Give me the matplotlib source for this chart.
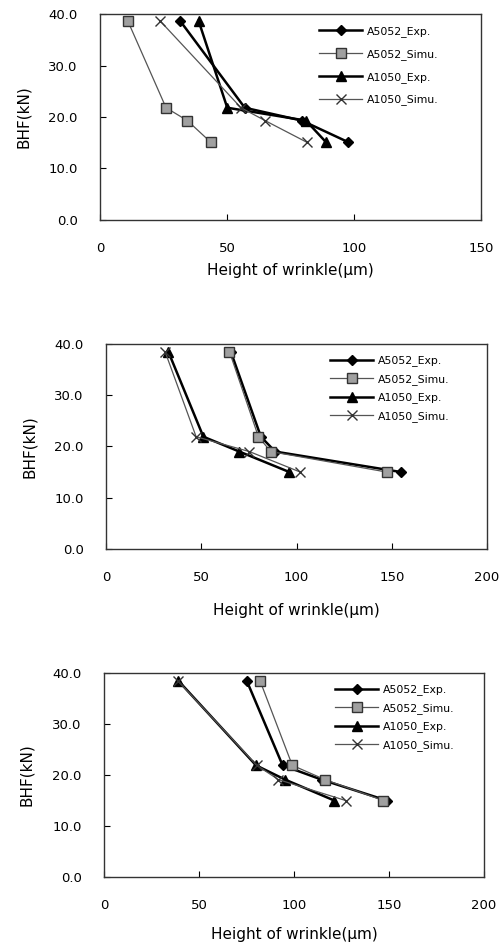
import matplotlib
matplotlib.use("Agg")
import matplotlib.pyplot as plt
from matplotlib.ticker import FormatStrFormatter

# ------------------------------------
# Data
# ------------------------------------
LABELS = ["A5052_Exp.", "A5052_Simu.", "A1050_Exp.", "A1050_Simu."]

# BHF levels (kN) per panel
bhf_1 = [38.7, 21.8, 19.3, 15.1]
bhf_2 = [38.5, 21.9, 19.0, 15.0]
bhf_3 = [38.5, 21.9, 19.1, 15.0]

# panel 1 wrinkle heights (um)
p1_a5052_exp = [31.5, 57.0, 79.5, 97.8]
p1_a5052_sim = [10.9, 26.0, 34.4, 43.6]
p1_a1050_exp = [38.8, 50.1, 81.1, 89.0]
p1_a1050_sim = [23.6, 55.5, 65.0, 81.4]

# panel 2
p2_a5052_exp = [65.5, 81.3, 88.8, 155.0]
p2_a5052_sim = [64.8, 80.0, 86.5, 147.5]
p2_a1050_exp = [32.7, 51.1, 70.0, 96.3]
p2_a1050_sim = [31.0, 47.3, 75.3, 102.0]

# panel 3
p3_a5052_exp = [75.1, 94.0, 114.5, 148.8]
p3_a5052_sim = [82.1, 99.1, 116.3, 147.0]
p3_a1050_exp = [39.1, 80.0, 95.3, 121.2]
p3_a1050_sim = [38.8, 80.4, 91.8, 127.2]

xticks_1 = [0, 50, 100, 150]
xticks_23 = [0, 50, 100, 150, 200]
yticks = [0, 10, 20, 30, 40]

plt.rcParams['font.family'] = ['DejaVu Sans']

# ------------------------------------
# Styles
# ------------------------------------
STYLES = [
    dict(color="black", lw=1.8, marker="D", ms=5.5, mfc="black", mec="black"),
    dict(color="#555555", lw=0.9, marker="s", ms=6.5, mfc="#a0a0a0", mec="#333333"),
    dict(color="black", lw=1.8, marker="^", ms=7.5, mfc="black", mec="black"),
    dict(color="#555555", lw=0.9, marker="x", ms=7, mew=1.0, mec="#333333"),
]


def draw_panel(ax, bhf, series, xmax, xticks, ylab_x, xlab_y, leg_xy, spacing):
    for xs, lab, st in zip(series, LABELS, STYLES):
        ax.plot(xs, bhf, label=lab, **st)
    ax.set_xlim(0, xmax)
    ax.set_ylim(0, 40)
    ax.set_xticks(xticks)
    ax.set_yticks(yticks)
    ax.yaxis.set_major_formatter(FormatStrFormatter("%.1f"))
    ax.tick_params(direction="in", length=4, width=0.8, pad=16, labelsize=9.5)
    for sp in ax.spines.values():
        sp.set_color("#333333")
        sp.set_linewidth(1.0)
    ax.set_xlabel("Height of wrinkle(μm)", fontsize=11)
    ax.set_ylabel("BHF(kN)", fontsize=11)
    ax.xaxis.set_label_coords(0.5, xlab_y)
    ax.xaxis.label.set_va("center")
    ax.yaxis.set_label_coords(ylab_x, 0.5)
    ax.yaxis.label.set_va("center")
    ax.legend(loc="upper left", bbox_to_anchor=leg_xy, frameon=False,
              borderpad=0, borderaxespad=0, fontsize=7.8, handlelength=4.0,
              handletextpad=0.4, labelspacing=spacing)


fig = plt.figure(figsize=(5.01, 9.47), dpi=100)

ax1 = fig.add_axes([0.1996, 0.7677, 0.7605, 0.2175])
ax2 = fig.add_axes([0.2116, 0.4203, 0.7605, 0.2165])
ax3 = fig.add_axes([0.2076, 0.0739, 0.7585, 0.2154])

draw_panel(ax1, bhf_1, [p1_a5052_exp, p1_a5052_sim, p1_a1050_exp, p1_a1050_sim],
           150, xticks_1, -0.202, -0.243, (0.575, 0.942), 1.1)
draw_panel(ax2, bhf_2, [p2_a5052_exp, p2_a5052_sim, p2_a1050_exp, p2_a1050_sim],
           200, xticks_23, -0.202, -0.298, (0.588, 0.944), 0.7)
draw_panel(ax3, bhf_3, [p3_a5052_exp, p3_a5052_sim, p3_a1050_exp, p3_a1050_sim],
           200, xticks_23, -0.203, -0.284, (0.608, 0.944), 0.7)

fig.savefig("out.png", dpi=100)
